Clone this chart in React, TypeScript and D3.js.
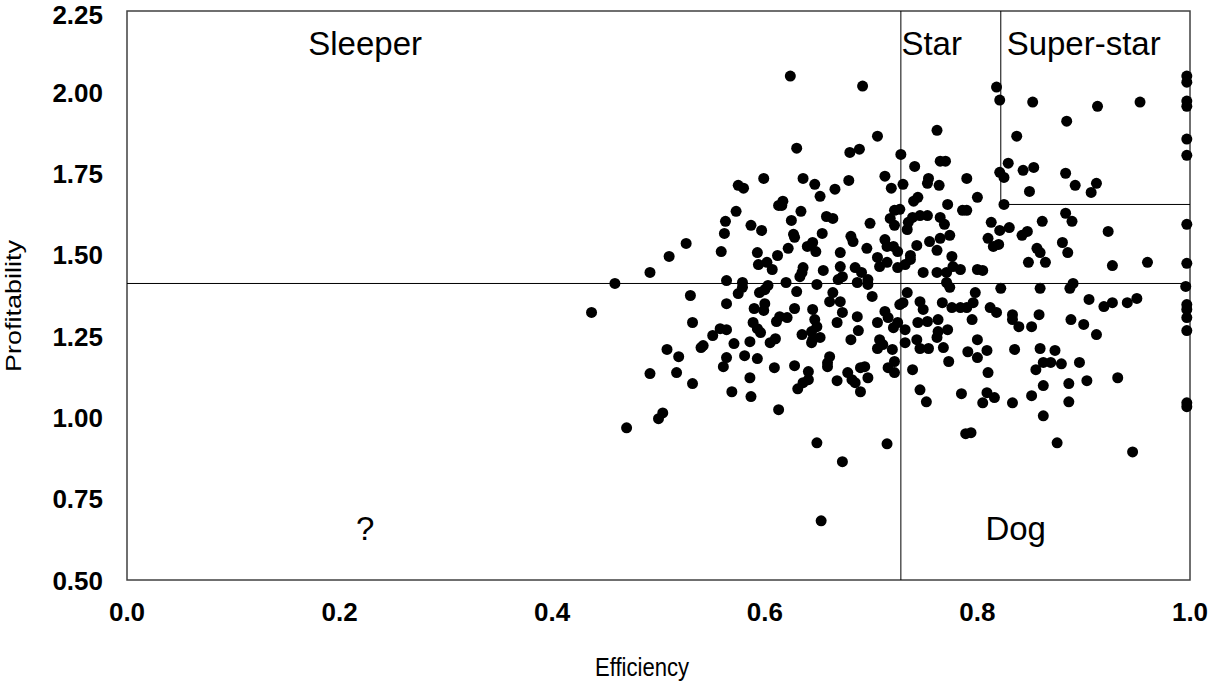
import React from "react";
import * as d3 from "d3";

const efficiency = [
  0.575,0.580,0.599,0.613,0.573,0.563,0.587,0.597,0.562,0.526,0.559,0.593,0.510,0.612,
  0.624,0.692,0.706,0.630,0.680,0.689,0.728,0.741,0.762,0.765,0.770,0.790,0.636,0.647,0.679,0.652,
  0.666,0.713,0.719,0.730,0.754,0.753,0.764,0.800,0.617,0.616,0.634,0.625,0.658,0.664,0.699,0.722,
  0.727,0.740,0.744,0.772,0.786,0.790,0.718,0.722,0.735,0.739,0.746,0.753,0.734,0.765,0.769,0.627,
  0.628,0.654,0.681,0.683,0.696,0.671,0.713,0.715,0.721,0.725,0.743,0.755,0.765,0.774,0.762,0.640,
  0.645,0.648,0.622,0.776,0.706,0.737,
  0.818,0.821,0.852,0.913,0.953,0.884,0.837,0.997,0.997,0.997,0.997,0.997,0.997,0.829,0.821,0.825,
  0.843,0.853,0.883,0.892,0.912,0.907,0.849,0.825,0.813,0.821,0.830,0.861,0.883,0.889,0.923,0.810,
  0.815,0.820,0.842,0.847,0.856,0.859,0.880,0.885,0.997,
  0.459,0.437,0.470,
  0.492,0.530,0.564,0.579,0.579,0.575,0.595,0.600,0.603,0.594,0.602,0.607,0.564,0.590,0.600,0.599,
  0.532,0.611,0.614,0.589,0.593,0.596,0.558,0.564,0.551,0.571,0.586,0.605,0.610,0.542,0.540,0.508,
  0.519,0.564,0.561,0.581,0.593,0.609,0.492,0.517,0.532,0.586,0.569,0.587,0.613,0.504,0.500,
  0.620,0.633,0.636,0.635,0.630,0.655,0.671,0.673,0.669,0.685,0.691,0.697,0.697,0.687,0.708,0.715,
  0.725,0.732,0.737,0.649,0.664,0.661,0.671,0.701,0.749,0.762,0.771,0.777,0.784,0.771,0.774,0.800,
  0.734,0.730,0.727,0.746,0.749,0.767,0.776,0.784,0.790,0.796,0.798,0.621,0.628,0.645,0.647,0.649,
  0.673,0.668,0.687,0.706,0.713,0.716,0.721,0.725,0.732,0.744,0.753,0.763,0.763,0.762,0.772,0.795,
  0.635,0.644,0.645,0.652,0.644,0.681,0.688,0.708,0.711,0.706,0.720,0.732,0.743,0.746,0.754,0.768,
  0.791,0.800,0.800,0.661,0.659,0.659,0.628,0.722,0.716,0.722,0.690,0.694,0.773,0.739,0.641,0.641,
  0.636,0.631,0.678,0.682,0.685,0.690,0.668,0.697,0.746,0.752,0.785,0.649,0.715,0.673,0.789,0.794,
  0.653,
  0.848,0.864,0.927,0.960,0.997,0.805,0.822,0.859,0.887,0.890,0.996,0.905,0.919,0.927,0.941,0.950,
  0.997,0.997,0.997,0.997,0.812,0.818,0.833,0.833,0.839,0.851,0.858,0.888,0.900,0.912,0.809,0.835,
  0.859,0.873,0.862,0.869,0.879,0.855,0.896,0.810,0.903,0.932,0.862,0.886,0.809,0.805,0.816,0.833,
  0.851,0.886,0.862,0.997,0.997,0.875,0.946,
];

const profitability = [
  1.714,1.705,1.735,1.652,1.634,1.603,1.591,1.575,1.566,1.535,1.510,1.507,1.495,1.498,
  2.050,2.019,1.865,1.828,1.815,1.825,1.809,1.772,1.883,1.788,1.788,1.735,1.735,1.717,1.729,1.680,
  1.702,1.742,1.705,1.717,1.735,1.720,1.714,1.677,1.665,1.652,1.634,1.606,1.618,1.612,1.597,1.637,
  1.640,1.665,1.677,1.655,1.637,1.637,1.612,1.591,1.600,1.615,1.621,1.621,1.578,1.615,1.594,1.563,
  1.554,1.566,1.557,1.541,1.520,1.507,1.547,1.526,1.526,1.510,1.529,1.541,1.551,1.560,1.514,1.526,
  1.538,1.510,1.520,1.495,1.492,1.498,
  2.016,1.976,1.970,1.957,1.970,1.911,1.865,2.050,2.031,1.973,1.957,1.856,1.806,1.782,1.754,1.738,
  1.760,1.769,1.751,1.714,1.720,1.692,1.695,1.655,1.600,1.575,1.584,1.603,1.628,1.603,1.572,1.551,
  1.526,1.532,1.560,1.572,1.520,1.507,1.538,1.507,1.594,
  1.412,1.323,0.968,
  1.446,1.375,1.421,1.415,1.400,1.381,1.384,1.393,1.406,1.470,1.477,1.455,1.350,1.335,1.350,1.329,
  1.292,1.295,1.310,1.292,1.273,1.261,1.273,1.270,1.252,1.227,1.233,1.230,1.242,1.221,1.215,1.209,
  1.187,1.184,1.156,1.190,1.181,1.153,1.135,1.138,1.104,1.122,1.079,1.064,1.024,1.014,0.996,
  1.415,1.433,1.461,1.446,1.387,1.452,1.464,1.433,1.424,1.461,1.446,1.424,1.409,1.415,1.464,1.477,
  1.461,1.470,1.486,1.409,1.384,1.356,1.356,1.372,1.446,1.446,1.446,1.464,1.455,1.415,1.400,1.455,
  1.384,1.353,1.347,1.356,1.332,1.353,1.338,1.338,1.338,1.353,1.384,1.307,1.335,1.332,1.301,1.279,
  1.323,1.292,1.310,1.292,1.326,1.307,1.276,1.292,1.270,1.292,1.295,1.301,1.264,1.246,1.270,1.301,
  1.255,1.264,1.239,1.246,1.230,1.239,1.267,1.239,1.224,1.212,1.209,1.230,1.239,1.212,1.212,1.215,
  1.202,1.239,1.184,1.187,1.168,1.156,1.159,1.172,1.153,1.138,1.153,1.156,1.172,1.147,1.141,1.116,
  1.107,1.088,1.138,1.116,1.107,1.079,1.113,1.122,1.085,1.048,1.073,0.922,0.919,0.864,0.950,0.953,
  0.682,
  1.477,1.477,1.467,1.477,1.474,1.452,1.397,1.397,1.397,1.412,1.403,1.363,1.341,1.353,1.353,1.366,
  1.347,1.332,1.307,1.267,1.338,1.323,1.316,1.301,1.279,1.279,1.316,1.301,1.286,1.255,1.206,1.209,
  1.212,1.206,1.169,1.169,1.165,1.147,1.169,1.138,1.113,1.122,1.098,1.104,1.076,1.045,1.061,1.045,
  1.067,1.048,1.005,1.033,1.045,0.922,0.894,
];

const xTicks = [0, 0.2, 0.4, 0.6, 0.8, 1.0];
const yTicks = [0.5, 0.75, 1.0, 1.25, 1.5, 1.75, 2.0, 2.25];

const effCut = 0.728;
const profCut = 1.412;
const superEffCut = 0.822;
const superProfCut = 1.655;

const quadrantLabels = [
  { text: "Sleeper", x: 0.224, y: 2.15 },
  { text: "Star", x: 0.757, y: 2.15 },
  { text: "Super-star", x: 0.90, y: 2.15 },
  { text: "?", x: 0.224, y: 0.66 },
  { text: "Dog", x: 0.836, y: 0.66 },
];

export default function App() {
  const W = 1208, H = 682;
  const left = 127, right = 1190, top = 11, bottom = 580;
  const x = d3.scaleLinear().domain([0, 1]).range([left, right]);
  const y = d3.scaleLinear().domain([0.5, 2.25]).range([bottom, top]);
  const font = "'Liberation Sans', Arial, sans-serif";
  return (
    <svg width={W} height={H} style={{ position: "absolute", left: 0, top: 0, background: "#fff" }}>
      <rect x={left} y={top} width={right - left} height={bottom - top} fill="none" stroke="#404040" strokeWidth={1.5} />
      <line x1={left} x2={right} y1={y(profCut)} y2={y(profCut)} stroke="#000" strokeWidth={1} />
      <line x1={x(effCut)} x2={x(effCut)} y1={top} y2={bottom} stroke="#000" strokeWidth={1} />
      <line x1={x(superEffCut)} x2={x(superEffCut)} y1={top} y2={y(superProfCut)} stroke="#000" strokeWidth={1} />
      <line x1={x(superEffCut)} x2={right} y1={y(superProfCut)} y2={y(superProfCut)} stroke="#000" strokeWidth={1} />
      {efficiency.map((e, i) => (
        <circle key={i} cx={x(e)} cy={y(profitability[i])} r={5.5} fill="#000" />
      ))}
      {yTicks.map((t) => (
        <text key={t} x={103} y={Math.max(y(t) + 9.5, 24)} textAnchor="end" fontFamily={font} fontWeight="bold" fontSize={26}>
          {d3.format(".2f")(t)}
        </text>
      ))}
      {xTicks.map((t) => (
        <text key={t} x={x(t)} y={621} textAnchor="middle" fontFamily={font} fontWeight="bold" fontSize={26}>
          {d3.format(".1f")(t)}
        </text>
      ))}
      <text transform="translate(642,676) scale(0.85,1)" textAnchor="middle" fontFamily={font} fontSize={26}>Efficiency</text>
      <text transform="translate(21,306) rotate(-90) scale(1,0.85)" textAnchor="middle" fontFamily={font} fontSize={27}>Profitability</text>
      {quadrantLabels.map((q) => (
        <text key={q.text} x={x(q.x)} y={y(q.y)} dy="0.36em" textAnchor="middle" fontFamily={font} fontSize={33}>
          {q.text}
        </text>
      ))}
    </svg>
  );
}
